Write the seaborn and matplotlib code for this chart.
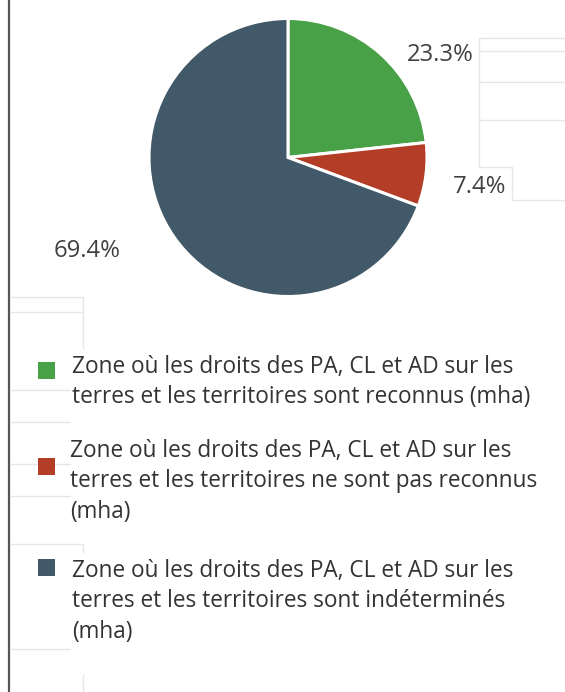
import matplotlib
matplotlib.use("Agg")
import matplotlib.pyplot as plt
import seaborn as sns
from matplotlib.patches import Rectangle
from matplotlib.lines import Line2D

categories = [
    ["Zone où les droits des PA, CL et AD sur les",
     "terres et les territoires sont reconnus (mha)"],
    ["Zone où les droits des PA, CL et AD sur les",
     "terres et les territoires ne sont pas reconnus",
     "(mha)"],
    ["Zone où les droits des PA, CL et AD sur les",
     "terres et les territoires sont indéterminés",
     "(mha)"],
]
shares = [23.3, 7.4, 69.4]
pct_labels = ["23.3%", "7.4%", "69.4%"]
colors = ["#49a147", "#b33d26", "#415968"]

sns.set_theme(style="white")
plt.rcParams["font.family"] = ["Open Sans", "DejaVu Sans"]

W, H = 565, 692
fig = plt.figure(figsize=(W / 100, H / 100), dpi=100)
fig.patch.set_facecolor("white")

cx, cy, r = 288, 157.5, 139
ax = fig.add_axes([(cx - r) / W, (H - cy - r) / H, 2 * r / W, 2 * r / H])
wedges, _ = ax.pie(shares, colors=colors, startangle=90, counterclock=False,
                   wedgeprops=dict(edgecolor="white", linewidth=2.2))
ax.set_xlim(-1, 1)
ax.set_ylim(-1, 1)
ax.set_aspect("auto")
ax.axis("off")

label_pos = [(1.094, 0.734), (1.381, -0.209), (-1.446, -0.676)]
for txt, (x, y) in zip(pct_labels, label_pos):
    ax.text(x, y, txt, ha="center", va="center", fontsize=17.2, color="#404040")

# screenshot frame lines
def fline(x0, y0, x1, y1, c="#e6e6e6", lw=1.0):
    fig.add_artist(Line2D([x0 / W, x1 / W], [1 - y0 / H, 1 - y1 / H],
                          transform=fig.transFigure, color=c, lw=lw, zorder=1))

fline(9, 0, 9, H, c="#555555", lw=1.6)
fline(479, 38, 479, 167)
fline(479, 38, 565, 38)
fline(479, 51, 565, 51)
fline(479, 82, 565, 82)
fline(479, 120, 565, 120)
fline(479, 167, 512, 167)
fline(512, 167, 512, 200)
fline(512, 200, 565, 200)
fline(10, 297, 83, 297)
fline(83, 297, 83, 348)
fline(10, 312, 83, 312)
fline(10, 390, 70, 390)
fline(10, 422, 70, 422)
fline(10, 464, 70, 464)
fline(10, 496, 70, 496)
fline(10, 544, 83, 544)
fline(83, 544, 83, 552)
fline(10, 649, 70, 649)
fline(83, 675, 83, 692)

# legend (manual layout)
txt_color = "#333333"
sq = [(38, 362, 17), (38, 458, 17), (38, 559, 17)]
txt_pos = [(72, [373, 403]), (70, [457, 487, 518]), (72, [577, 607, 638])]
for (x, y, s), c in zip(sq, colors):
    fig.add_artist(Rectangle((x / W, 1 - (y + s) / H), s / W, s / H,
                             transform=fig.transFigure, facecolor=c,
                             edgecolor="none", zorder=5))
for (x, ys), lines in zip(txt_pos, categories):
    for yb, line in zip(ys, lines):
        fig.text(x / W, 1 - yb / H, line, ha="left", va="baseline", fontsize=16.3,
                 color=txt_color, zorder=5)

fig.savefig("out.png", dpi=100)
